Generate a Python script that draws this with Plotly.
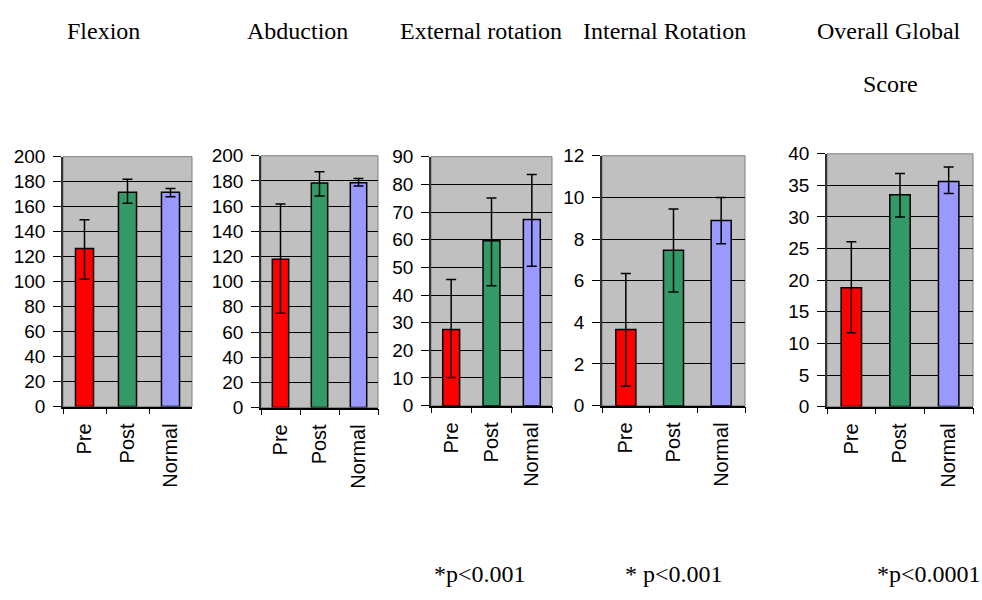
import plotly.graph_objects as go

categories = ["Pre", "Post", "Normal"]
bar_colors = ["#ff0000", "#339966", "#9999ff"]

panel_titles = ["Flexion", "Abduction", "External rotation", "Internal Rotation", "Overall Global"]
extra_title = "Score"
p_values = ["", "", "*p<0.001", "* p<0.001", "*p<0.0001"]

flexion_mean = [126.6, 171.5, 171.5]
flexion_err_up = [23.0, 10.5, 3.0]
flexion_err_down = [24.6, 8.8, 3.5]

abduction_mean = [117.8, 178.3, 178.5]
abduction_err_up = [43.9, 8.9, 3.5]
abduction_err_down = [42.8, 10.3, 2.5]

external_mean = [27.5, 59.6, 67.3]
external_err_up = [18.1, 15.5, 16.3]
external_err_down = [17.3, 16.3, 16.9]

internal_mean = [3.66, 7.46, 8.89]
internal_err_up = [2.68, 1.98, 1.11]
internal_err_down = [2.72, 2.0, 1.12]

overall_mean = [18.8, 33.5, 35.6]
overall_err_up = [7.3, 3.4, 2.3]
overall_err_down = [7.1, 3.5, 1.9]

y_ranges = [(0, 200), (0, 200), (0, 90), (0, 12), (0, 40)]
y_dticks = [20, 20, 10, 2, 5]

means = [flexion_mean, abduction_mean, external_mean, internal_mean, overall_mean]
errs_up = [flexion_err_up, abduction_err_up, external_err_up, internal_err_up, overall_err_up]
errs_down = [flexion_err_down, abduction_err_down, external_err_down, internal_err_down, overall_err_down]

W, H = 982, 600
# pixel boxes of plot areas (left, right, top, bottom)
boxes = [(63, 192, 152, 411), (261, 378, 151, 412), (431, 552, 152, 410),
         (602, 745, 151, 410), (827, 973, 149, 411)]
title_x = [103, 297, 480.5, 664.5, 888.5]
pval_x = [0, 0, 479.5, 673.5, 929]

SERIF = "Times New Roman, Liberation Serif, serif"
SANS = "Arial, Liberation Sans, sans-serif"

fig = go.Figure()
layout = dict(width=W, height=H, autosize=False, margin=dict(l=0, r=0, t=0, b=0),
              paper_bgcolor="white", plot_bgcolor="rgba(0,0,0,0)", showlegend=False,
              annotations=[], shapes=[])

for i in range(5):
    n = "" if i == 0 else str(i + 1)
    l, r, t, b = boxes[i]
    fig.add_trace(go.Bar(
        x=categories, y=means[i], width=0.42,
        marker=dict(color=bar_colors, line=dict(color="black", width=1.5)),
        error_y=dict(type="data", symmetric=False, array=errs_up[i], arrayminus=errs_down[i],
                     color="black", thickness=1.5, width=5),
        xaxis="x" + n, yaxis="y" + n, hoverinfo="skip"))
    layout["xaxis" + n] = dict(
        domain=[l / W, r / W], anchor="y" + n, type="category",
        showgrid=False, showline=True, linecolor="black", linewidth=1.5,
        ticks="outside", tickson="boundaries", ticklen=6, tickcolor="black", tickwidth=1,
        tickangle=-90, tickfont=dict(family=SANS, size=20, color="black"),
        ticklabelstandoff=7, fixedrange=True)
    layout["yaxis" + n] = dict(
        domain=[(H - b) / H, (H - t) / H], anchor="x" + n,
        range=list(y_ranges[i]), dtick=y_dticks[i], tick0=0,
        showgrid=True, gridcolor="black", gridwidth=1, zeroline=False,
        showline=True, linecolor="#333333", linewidth=1.5,
        ticks="outside", ticklen=8, tickcolor="black", tickwidth=1,
        tickfont=dict(family=SANS, size=19, color="black"),
        ticklabelstandoff=4, fixedrange=True)
    layout["shapes"].append(dict(type="rect", xref="x" + n + " domain", yref="y" + n + " domain",
                                 x0=0, x1=1, y0=0, y1=1, line=dict(color="#808080", width=1),
                                 fillcolor="#c0c0c0", layer="below"))
    layout["annotations"].append(dict(
        text=panel_titles[i], x=title_x[i] / W, y=(H - 22) / H, xref="paper", yref="paper",
        xanchor="center", yanchor="middle", showarrow=False,
        font=dict(family=SERIF, size=24, color="black")))
    if p_values[i]:
        layout["annotations"].append(dict(
            text=p_values[i], x=pval_x[i] / W, y=(H - 584) / H, xref="paper", yref="paper",
            xanchor="center", yanchor="middle", showarrow=False,
            font=dict(family=SERIF, size=24, color="black")))

layout["annotations"].append(dict(
    text=extra_title, x=890 / W, y=(H - 77) / H, xref="paper", yref="paper",
    xanchor="center", yanchor="middle", showarrow=False,
    font=dict(family=SERIF, size=24, color="black")))

fig.update_layout(**layout)
fig.write_html("out.html", config={"displayModeBar": False},
               post_script="document.body.style.margin='0px';")
